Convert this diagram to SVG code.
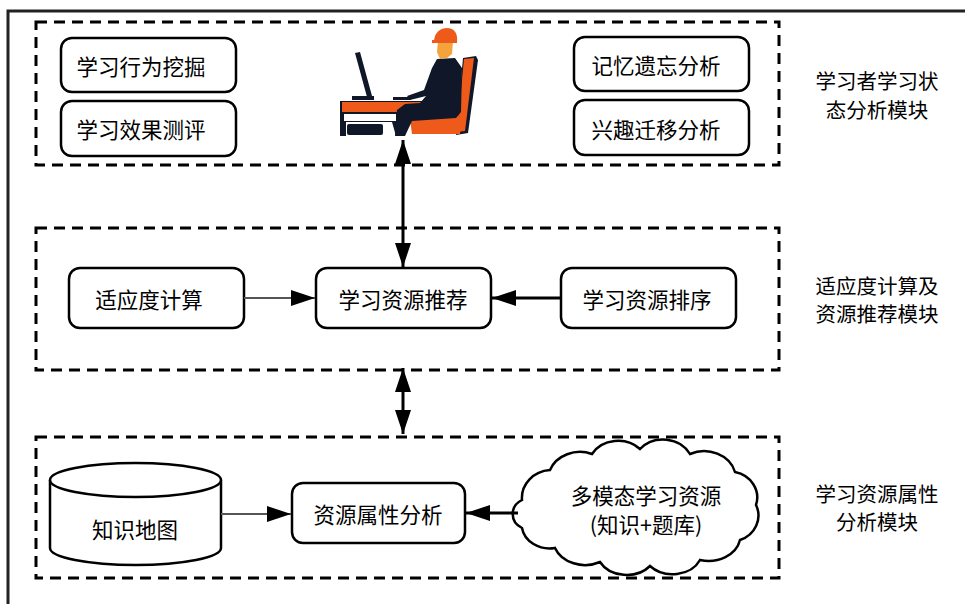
<svg xmlns="http://www.w3.org/2000/svg" width="965" height="604" viewBox="0 0 965 604">
  <style>
    .frame { fill: none; stroke: #222; stroke-width: 3; }
    .module { fill: none; stroke: #000; stroke-width: 3; stroke-dasharray: 11 7; }
    .node { fill: #fff; stroke: #000; stroke-width: 2.5; }
    .label { font-family: "Noto Sans CJK SC", "Noto Sans", sans-serif; font-size: 21.5px; fill: #000; text-anchor: middle; dominant-baseline: central; }
    .side { font-size: 20.5px; }
    .link { stroke: #000; stroke-width: 3; fill: none; }
    .thin { stroke: #555; stroke-width: 1.8; fill: none; }
  </style>
  <defs>
    <marker id="arrow" viewBox="0 0 24 16" refX="24" refY="8" markerWidth="24" markerHeight="16" markerUnits="userSpaceOnUse" orient="auto-start-reverse">
      <path d="M0,0 L24,8 L0,16 Z" fill="#000"/>
    </marker>
  </defs>

  <rect width="965" height="604" fill="#fff"/>

  <!-- outer frame: top and left edges -->
  <path class="frame" d="M8,604 L8,11 L965,11"/>

  <!-- module boundaries -->
  <g id="module-state">
    <rect class="module" x="36" y="22" width="743" height="143"/>
    <text class="label side" x="877" y="80">学习者学习状</text>
    <text class="label side" x="877" y="109">态分析模块</text>
  </g>
  <g id="module-recommend">
    <rect class="module" x="36" y="228" width="743" height="142"/>
    <text class="label side" x="877" y="285">适应度计算及</text>
    <text class="label side" x="877" y="313">资源推荐模块</text>
  </g>
  <g id="module-attribute">
    <rect class="module" x="36" y="437" width="743" height="141"/>
    <text class="label side" x="877" y="493">学习资源属性</text>
    <text class="label side" x="877" y="521">分析模块</text>
  </g>

  <!-- learner state nodes -->
  <g id="behavior-mining">
    <rect class="node" x="61" y="38" width="175" height="54" rx="11"/>
    <text class="label" x="141" y="65">学习行为挖掘</text>
  </g>
  <g id="effect-evaluation">
    <rect class="node" x="61" y="101" width="175" height="55" rx="11"/>
    <text class="label" x="141" y="128">学习效果测评</text>
  </g>
  <g id="memory-forgetting">
    <rect class="node" x="574" y="37" width="175" height="54" rx="11"/>
    <text class="label" x="656" y="64">记忆遗忘分析</text>
  </g>
  <g id="interest-shift">
    <rect class="node" x="574" y="100" width="175" height="55" rx="11"/>
    <text class="label" x="656" y="128">兴趣迁移分析</text>
  </g>

  <!-- learner at a workstation -->
  <g id="learner">
    <!-- monitor -->
    <path d="M355,53 L360,52 L372,96 L367,97 Z" fill="#101729"/>
    <rect x="352" y="96" width="22" height="4" fill="#101729"/>
    <!-- desk -->
    <path d="M340,101 L432,101 L432,114 L400,114 L400,134 L396,136 L392,122 L346,122 L346,136 L340,136 Z" fill="#101729"/>
    <path d="M342,102 L430,102 L430,112 L342,112 Z" fill="#ee5a1a"/>
    <rect x="344" y="114" width="52" height="7" fill="#fff"/>
    <rect x="347" y="124" width="36" height="11" rx="2" fill="#101729"/>
    <!-- keyboard -->
    <rect x="393" y="97" width="18" height="3" fill="#101729"/>
    <!-- chair -->
    <path d="M463,58 L476,56 L478,60 L468,133 L456,135 Z" fill="#101729"/>
    <path d="M464,59 L474,58 L465,131 L457,132 Z" fill="#ee5a1a"/>
    <path d="M410,119 L462,115 L460,134 L412,134 Z" fill="#ee5a1a"/>
    <!-- body -->
    <path d="M437,59 L455,58 L462,68 L461,112 L456,118 L412,121 L405,136 L395,136 L397,110 L405,104 L420,103 L426,96 L410,100 L407,96 L424,90 L432,68 Z" fill="#101729"/>
    <!-- head -->
    <path d="M438,41 L453,41 L452,54 L447,58 L440,59 L437,52 Z" fill="#f5a33c"/>
    <!-- hard hat -->
    <path d="M434,42 C434,32 441,28 447,28 C454,28 458,33 457,42 Z" fill="#ee5a1a"/>
    <rect x="432" y="40" width="25" height="3" fill="#ee5a1a"/>
  </g>

  <!-- recommendation nodes -->
  <g id="fitness-calc">
    <rect class="node" x="69" y="268" width="175" height="60" rx="11"/>
    <text class="label" x="149" y="298">适应度计算</text>
  </g>
  <g id="resource-recommend">
    <rect class="node" x="316" y="268" width="175" height="60" rx="11"/>
    <text class="label" x="403" y="298">学习资源推荐</text>
  </g>
  <g id="resource-ranking">
    <rect class="node" x="561" y="268" width="175" height="60" rx="11"/>
    <text class="label" x="647" y="298">学习资源排序</text>
  </g>

  <!-- attribute nodes -->
  <g id="knowledge-map">
    <path class="node" d="M50,480 L50,548 A85.5,17 0 0 0 221,548 L221,480 A85.5,17 0 0 0 50,480 Z"/>
    <path class="node" fill="none" d="M50,480 A85.5,17 0 0 0 221,480"/>
    <text class="label" x="135" y="528">知识地图</text>
  </g>
  <g id="attribute-analysis">
    <rect class="node" x="292" y="483" width="173" height="60" rx="11"/>
    <text class="label" x="378" y="513">资源属性分析</text>
  </g>
  <g id="multimodal-resources">
    <path class="node" d="M522,500 A30,28 0 0 1 550,470 A32,28 0 0 1 592,454 A30,26 0 0 1 640,449 A30,26 0 0 1 690,454 A32,28 0 0 1 735,472 A28,26 0 0 1 756,505 A28,26 0 0 1 740,540 A32,26 0 0 1 700,560 A30,24 0 0 1 650,566 A30,24 0 0 1 600,562 A32,26 0 0 1 555,548 A28,24 0 0 1 522,528 A18,16 0 0 1 522,500 Z"/>
    <text class="label" x="646" y="494">多模态学习资源</text>
    <text class="label" x="646" y="523">(知识+题库)</text>
  </g>

  <!-- connectors -->
  <g id="connectors">
    <line class="link" x1="403" y1="140" x2="403" y2="267" marker-start="url(#arrow)" marker-end="url(#arrow)"/>
    <line class="link" x1="403" y1="368" x2="403" y2="434" marker-start="url(#arrow)" marker-end="url(#arrow)"/>
    <line class="thin" x1="244" y1="298" x2="315" y2="298" marker-end="url(#arrow)"/>
    <line class="link" x1="561" y1="298" x2="492" y2="298" marker-end="url(#arrow)"/>
    <line class="thin" x1="221" y1="514" x2="291" y2="514" marker-end="url(#arrow)"/>
    <line class="link" x1="518" y1="513" x2="466" y2="513" marker-end="url(#arrow)"/>
  </g>
</svg>
